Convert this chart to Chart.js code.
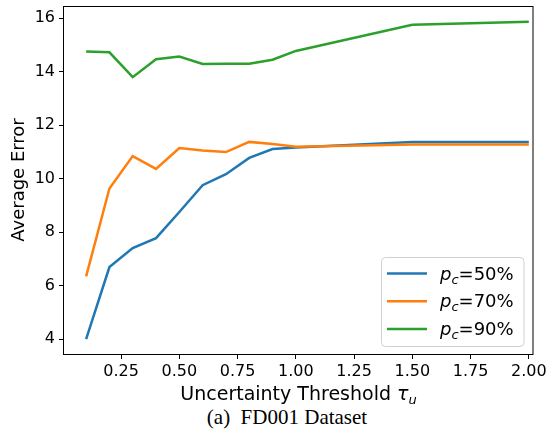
<!DOCTYPE html>
<html>
<head>
<meta charset="utf-8">
<script src="https://cdn.jsdelivr.net/npm/chart.js@4.4.0/dist/chart.umd.min.js"></script>
<style>
  body { margin: 0; background: #fff; }
  #wrap { position: relative; width: 548px; height: 442px; }
  #box { position: absolute; left: 0; top: 0; width: 548px; height: 405px; }
  #caption { position: absolute; left: 0; top: 406px; width: 574px; text-align: center;
             font-family: "Liberation Serif", serif; font-size: 21px; line-height: 22px; color: #000; }
</style>
</head>
<body>
<div id="wrap">
  <div id="box"><canvas id="errChart"></canvas></div>
  <div id="caption">(a)&nbsp; FD001 Dataset</div>
</div>
<script>
// 데이터
const thresholds = [0.1, 0.2, 0.3, 0.4, 0.5, 0.6, 0.7, 0.8, 0.9, 1.0, 1.5, 2.0];
const pc50 = [4.0, 6.69, 7.40, 7.77, 8.75, 9.75, 10.16, 10.77, 11.10, 11.16, 11.37, 11.37];
const pc70 = [6.34, 9.63, 10.84, 10.36, 11.14, 11.05, 10.99, 11.37, 11.29, 11.19, 11.27, 11.27];
const pc90 = [14.75, 14.72, 13.79, 14.46, 14.56, 14.28, 14.29, 14.29, 14.44, 14.77, 15.75, 15.86];
const seriesNames = ['50%', '70%', '90%'];
const xTicks = [0.25, 0.5, 0.75, 1.0, 1.25, 1.5, 1.75, 2.0];
const yTicks = [4, 6, 8, 10, 12, 14, 16];

const colors = ['#1f77b4', '#ff7f0e', '#2ca02c'];

function toPoints(ys) {
    return thresholds.map(function (x, i) { return { x: x, y: ys[i] }; });
}

// 테두리, 축 제목, 범례 직접 그리기
const extras = {
    id: 'extras',
    afterDraw: function (chart) {
        const ctx = chart.ctx;
        const a = chart.chartArea;
        ctx.save();
        ctx.strokeStyle = '#000';
        ctx.lineWidth = 1;
        ctx.strokeRect(a.left - 0.5, a.top + 0.5, a.right - a.left + 0.5, a.bottom - a.top);

        ctx.fillStyle = '#000';
        // y title
        ctx.save();
        ctx.translate(19, (a.top + a.bottom) / 2);
        ctx.rotate(-Math.PI / 2);
        ctx.font = '18px "DejaVu Sans"';
        ctx.textAlign = 'center';
        ctx.textBaseline = 'middle';
        ctx.fillText('Average Error', 0, 0);
        ctx.restore();

        // x title with tau_u
        ctx.textBaseline = 'alphabetic';
        ctx.textAlign = 'left';
        const main = 'Uncertainty Threshold ';
        ctx.font = '19px "DejaVu Sans"';
        const w1 = ctx.measureText(main).width;
        ctx.font = 'italic 19px "DejaVu Sans"';
        const w2 = ctx.measureText('τ').width;
        ctx.font = 'italic 13px "DejaVu Sans"';
        const w3 = ctx.measureText('u').width;
        let x0 = (a.left + a.right) / 2 - (w1 + w2 + w3) / 2;
        const base = 400;
        ctx.font = '19px "DejaVu Sans"';
        ctx.fillText(main, x0, base);
        ctx.font = 'italic 19px "DejaVu Sans"';
        ctx.fillText('τ', x0 + w1, base);
        ctx.font = 'italic 13px "DejaVu Sans"';
        ctx.fillText('u', x0 + w1 + w2, base + 4);

        // legend
        const lx = 381.5, ly = 257.5, lw = 142.5, lh = 89;
        ctx.beginPath();
        ctx.roundRect(lx, ly, lw, lh, 4);
        ctx.fillStyle = 'rgba(255,255,255,0.8)';
        ctx.fill();
        ctx.strokeStyle = '#d0d0d0';
        ctx.stroke();
        for (let i = 0; i < seriesNames.length; i++) {
            const y = 273.5 + i * 27.7;
            ctx.strokeStyle = colors[i];
            ctx.lineWidth = 2.5;
            ctx.beginPath();
            ctx.moveTo(387, y);
            ctx.lineTo(427, y);
            ctx.stroke();
            ctx.fillStyle = '#000';
            let tx = 440;
            const tb = y + 6;
            ctx.font = 'italic 18px "DejaVu Sans"';
            ctx.fillText('p', tx, tb);
            tx += ctx.measureText('p').width;
            ctx.font = 'italic 13px "DejaVu Sans"';
            ctx.fillText('c', tx, tb + 4);
            tx += ctx.measureText('c').width;
            ctx.font = '18px "DejaVu Sans"';
            ctx.fillText('=' + seriesNames[i], tx, tb);
        }
        ctx.restore();
    }
};

window.onload = function () {
    const area = document.getElementById('errChart').getContext('2d');
    const errChart = new Chart(area, {
        type: 'line',
        data: {
            datasets: [
                { label: 'p_c=50%', data: toPoints(pc50), borderColor: colors[0], backgroundColor: colors[0], order: 3 },
                { label: 'p_c=70%', data: toPoints(pc70), borderColor: colors[1], backgroundColor: colors[1], order: 2 },
                { label: 'p_c=90%', data: toPoints(pc90), borderColor: colors[2], backgroundColor: colors[2], order: 1 }
            ]
        },
        options: {
            responsive: true,
            maintainAspectRatio: false,
            animation: false,
            layout: { padding: { top: 6, right: 15, left: 0, bottom: 0 } },
            elements: {
                line: { borderWidth: 2.5, tension: 0, borderCapStyle: 'butt' },
                point: { radius: 0, hoverRadius: 0 }
            },
            scales: {
                x: {
                    type: 'linear',
                    min: 0.005,
                    max: 2.018,
                    afterBuildTicks: function (scale) {
                        scale.ticks = xTicks.map(function (v) { return { value: v }; });
                    },
                    afterFit: function (scale) {
                        scale.height = 51;
                        scale.paddingLeft = 0;
                        scale.paddingRight = 0;
                    },
                    grid: { drawOnChartArea: false, drawTicks: true, tickLength: 5, color: '#000' },
                    border: { display: false },
                    ticks: {
                        padding: 3,
                        maxRotation: 0,
                        autoSkip: false,
                        color: '#000',
                        font: { family: 'DejaVu Sans', size: 16 },
                        callback: function (value) { return Number(value).toFixed(2); }
                    }
                },
                y: {
                    min: 3.44,
                    max: 16.45,
                    afterBuildTicks: function (scale) {
                        scale.ticks = yTicks.map(function (v) { return { value: v }; });
                    },
                    afterFit: function (scale) {
                        scale.width = 64;
                        scale.paddingTop = 0;
                        scale.paddingBottom = 0;
                    },
                    grid: { drawOnChartArea: false, drawTicks: true, tickLength: 5, color: '#000' },
                    border: { display: false },
                    ticks: {
                        padding: 4,
                        color: '#000',
                        font: { family: 'DejaVu Sans', size: 16 }
                    }
                }
            },
            plugins: {
                legend: { display: false },
                tooltip: { enabled: false },
                title: { display: false }
            }
        },
        plugins: [extras]
    });
};
</script>
</body>
</html>
